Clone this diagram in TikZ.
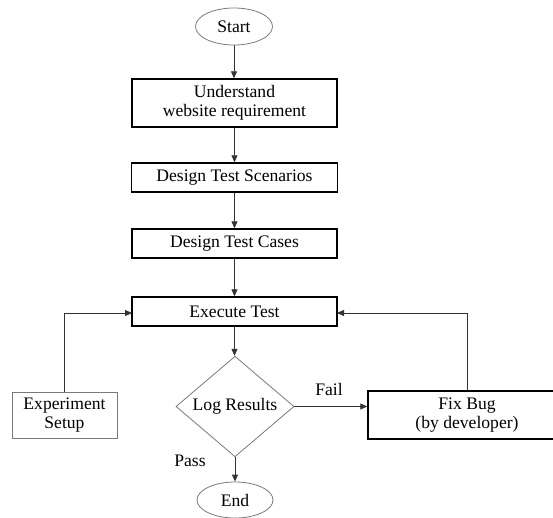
\documentclass[tikz,border=0pt]{standalone}
\usepackage{fontspec}
\setmainfont{Liberation Serif}
\usetikzlibrary{shapes.geometric,arrows.meta}
\definecolor{thinline}{HTML}{7A7A7A}
\definecolor{conn}{HTML}{333333}
\begin{document}
\begin{tikzpicture}[x=1pt,y=-1pt,
  every node/.style={font=\fontsize{17.6}{19.5}\selectfont, inner sep=0pt, align=center},
  boxthick/.style={draw=black, line width=1.4pt, rectangle},
  boxthin/.style={draw=thinline, line width=0.8pt, rectangle},
  term/.style={draw=thinline, line width=0.8pt, ellipse},
  decis/.style={draw=thinline, line width=0.8pt, diamond},
  conline/.style={draw=conn, line width=0.8pt, -{Triangle[length=7pt,width=6pt]}},
  lbl/.style={}]
\useasboundingbox (0,0) rectangle (553,518);
\fill[white] (0,0) rectangle (553,518);

\node[term, minimum width=77pt, minimum height=37pt] (start) at (234,26.5) {Start};
\node[boxthick, minimum width=205pt, minimum height=48pt] (underst) at (234.5,103) {Understand\\website requirement};
\node[boxthick, minimum width=206pt, minimum height=29pt] (scen) at (234.5,177.5) {Design Test Scenarios};
\node[boxthick, minimum width=205pt, minimum height=29pt] (cases) at (234.5,243.5) {Design Test Cases};
\node[boxthick, minimum width=205pt, minimum height=29pt] (exec) at (234.5,311.5) {Execute Test};
\node[decis, minimum width=118pt, minimum height=81pt] (logr) at (235,406.5) {Log Results};
\node[boxthick, minimum width=198pt, minimum height=48pt] (fix) at (467,415) {Fix Bug\\(by developer)};
\node[boxthin, minimum width=105pt, minimum height=46pt] (exper) at (64.5,415) {Experiment\\Setup};
\node[term, minimum width=76pt, minimum height=36pt] (end) at (235,500) {End};

\node[lbl] (fail) at (329,389) {Fail};
\node[lbl] (pass) at (190,461) {Pass};

\coordinate (execw) at (132,313);
\coordinate (exece) at (337,313);

\draw[conline] (start.south) -- (start.south |- underst.north);
\draw[conline] (underst.south) -- (underst.south |- scen.north);
\draw[conline] (scen.south) -- (scen.south |- cases.north);
\draw[conline] (cases.south) -- (cases.south |- exec.north);
\draw[conline] (exec.south) -- (exec.south |- logr.north);
\draw[conline] (logr.east) -- (fix.west |- logr.east);
\draw[conline] (logr.south) -- (end.north);
\draw[conline] (exper.north) |- (execw);
\draw[conline] (fix.north) |- (exece);
\end{tikzpicture}
\end{document}
